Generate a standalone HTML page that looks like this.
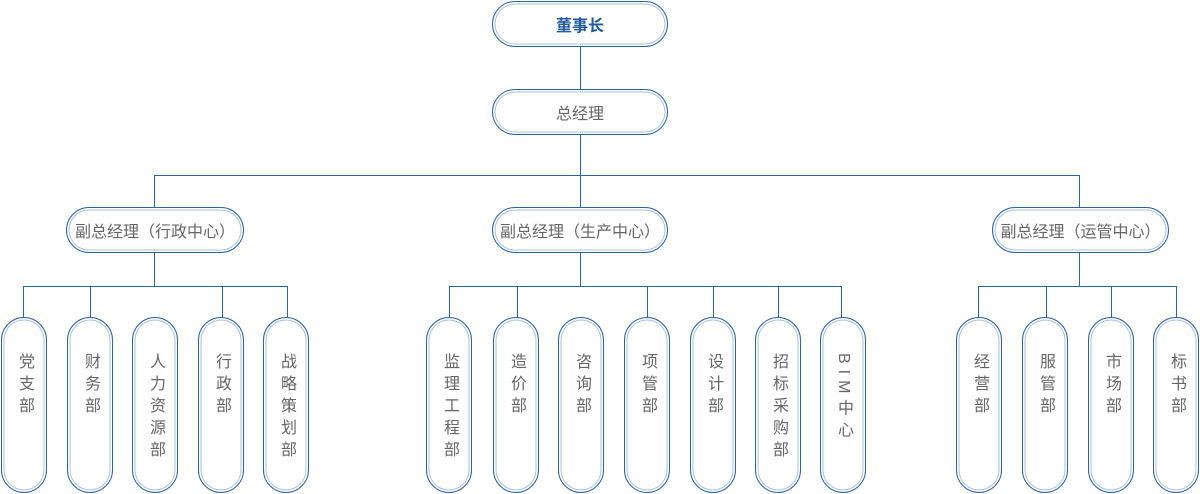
<!DOCTYPE html>
<html><head><meta charset="utf-8"><style>
html,body{margin:0;width:1200px;height:494px;overflow:hidden;}
body{background:#fff;position:relative;font-family:"Liberation Sans","Noto Sans CJK SC",sans-serif;}
.b{position:absolute;box-sizing:border-box;border:1.5px solid #2c63a5;background:#fff;box-shadow:inset 0 0 0 1.5px #fff,inset 0 0 0 2.5px #a9c1de;color:#666;}
.h{height:46px;border-radius:23px;display:flex;align-items:center;justify-content:center;font-size:16px;}
.v{width:46px;top:317px;height:176px;border-radius:23px;}
.v span{position:absolute;top:35px;left:50%;transform:translateX(-50%);writing-mode:vertical-rl;font-size:16px;letter-spacing:6px;line-height:16px;}
.v span i{font-style:normal;letter-spacing:6px;}
.l{position:absolute;background:#2c63a5;}
</style></head><body>
<div class="l" style="left:580px;top:46px;width:1px;height:129px"></div>
<div class="l" style="left:154px;top:175px;width:926px;height:1px"></div>
<div class="l" style="left:154px;top:175px;width:1px;height:32px"></div>
<div class="l" style="left:1079px;top:175px;width:1px;height:32px"></div>
<div class="l" style="left:580px;top:175px;width:1px;height:32px"></div>
<div class="l" style="left:154px;top:253px;width:1px;height:33px"></div>
<div class="l" style="left:580px;top:253px;width:1px;height:33px"></div>
<div class="l" style="left:1079px;top:253px;width:1px;height:33px"></div>
<div class="l" style="left:23px;top:286px;width:265px;height:1px"></div>
<div class="l" style="left:449px;top:286px;width:393px;height:1px"></div>
<div class="l" style="left:978px;top:286px;width:199px;height:1px"></div>
<div class="l" style="left:23px;top:286px;width:1px;height:31px"></div>
<div class="l" style="left:90px;top:286px;width:1px;height:31px"></div>
<div class="l" style="left:222px;top:286px;width:1px;height:31px"></div>
<div class="l" style="left:287px;top:286px;width:1px;height:31px"></div>
<div class="l" style="left:449px;top:286px;width:1px;height:31px"></div>
<div class="l" style="left:517px;top:286px;width:1px;height:31px"></div>
<div class="l" style="left:647px;top:286px;width:1px;height:31px"></div>
<div class="l" style="left:713px;top:286px;width:1px;height:31px"></div>
<div class="l" style="left:778px;top:286px;width:1px;height:31px"></div>
<div class="l" style="left:841px;top:286px;width:1px;height:31px"></div>
<div class="l" style="left:978px;top:286px;width:1px;height:31px"></div>
<div class="l" style="left:1046px;top:286px;width:1px;height:31px"></div>
<div class="l" style="left:1111px;top:286px;width:1px;height:31px"></div>
<div class="l" style="left:1176px;top:286px;width:1px;height:31px"></div>

<div class="b h" style="left:492px;top:1px;width:176px;color:#1f5aa0;font-weight:bold;">董事长</div>
<div class="b h" style="left:492px;top:89px;width:176px;">总经理</div>
<div class="b h" style="left:66px;top:207px;width:178px;">副总经理（行政中心）</div>
<div class="b h" style="left:492px;top:207px;width:176px;">副总经理（生产中心）</div>
<div class="b h" style="left:992px;top:207px;width:177px;">副总经理（运管中心）</div>

<div class="b v" style="left:1px"><span>党支部</span></div>
<div class="b v" style="left:67px"><span>财务部</span></div>
<div class="b v" style="left:132px"><span>人力资源部</span></div>
<div class="b v" style="left:198px"><span>行政部</span></div>
<div class="b v" style="left:263px"><span>战略策划部</span></div>
<div class="b v" style="left:426px"><span>监理工程部</span></div>
<div class="b v" style="left:493px"><span>造价部</span></div>
<div class="b v" style="left:558px"><span>咨询部</span></div>
<div class="b v" style="left:624px"><span>项管部</span></div>
<div class="b v" style="left:690px"><span>设计部</span></div>
<div class="b v" style="left:755px"><span>招标采购部</span></div>
<div class="b v" style="left:820px"><span><i>BIM</i>中心</span></div>
<div class="b v" style="left:956px"><span>经营部</span></div>
<div class="b v" style="left:1022px"><span>服管部</span></div>
<div class="b v" style="left:1088px"><span>市场部</span></div>
<div class="b v" style="left:1153px"><span>标书部</span></div>
</body></html>
